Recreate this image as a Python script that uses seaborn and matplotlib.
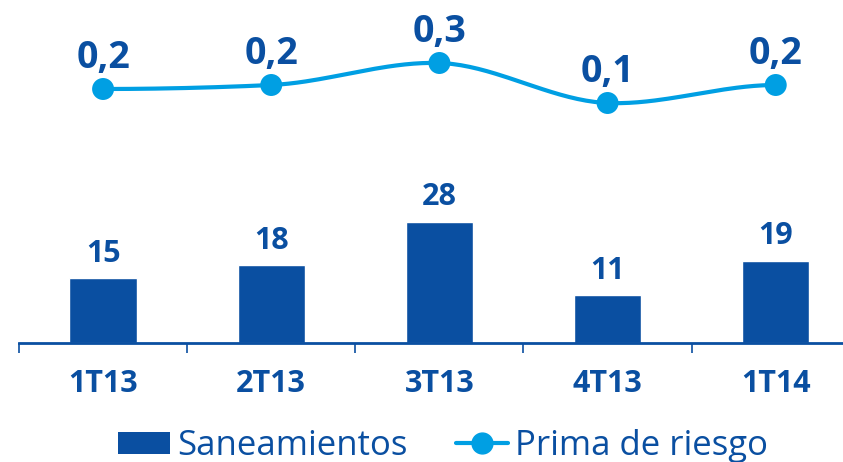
import numpy as np
import pandas as pd
import matplotlib
matplotlib.use('Agg')
import matplotlib.pyplot as plt
from matplotlib.lines import Line2D
from matplotlib.patches import Patch
from matplotlib.ticker import FixedLocator
import seaborn as sns

# data
quarters = ['1T13', '2T13', '3T13', '4T13', '1T14']
saneamientos = [15, 18, 28, 11, 19]
prima_riesgo = [0.17, 0.19, 0.30, 0.10, 0.19]

dark_blue = '#0A4FA1'
light_blue = '#009FE3'

sns.set_theme(style='white')
plt.rcParams['font.family'] = ['Open Sans', 'DejaVu Sans']

df = pd.DataFrame({'quarter': quarters, 'san': saneamientos, 'prima': prima_riesgo})

fig = plt.figure(figsize=(8.43, 4.62), dpi=100)
W, H = 843, 462

# bar panel
ax_bar = fig.add_axes([19 / W, 1 - 343 / H, 1 - 19 / W, 129.6 / H])
sns.barplot(data=df, x='quarter', y='san', color=dark_blue, width=0.4,
            saturation=1, ax=ax_bar)
ax_bar.set_xlim(-0.5, 4.4)
ax_bar.set_ylim(0, 30)
ax_bar.set_xlabel('')
ax_bar.set_ylabel('')
ax_bar.set_yticks([])
for s in ['top', 'right', 'left']:
    ax_bar.spines[s].set_visible(False)
ax_bar.spines['bottom'].set_color(dark_blue)
ax_bar.spines['bottom'].set_linewidth(2)
ax_bar.xaxis.set_minor_locator(FixedLocator(np.arange(len(quarters)) - 0.5))
ax_bar.tick_params(axis='x', which='minor', bottom=True, length=7, width=1.2,
                   color=dark_blue, direction='out')
ax_bar.tick_params(axis='x', which='major', bottom=False, length=0, pad=19,
                   labelsize=22, labelcolor=dark_blue)
for lab in ax_bar.get_xticklabels():
    lab.set_fontweight('bold')
for i, v in enumerate(saneamientos):
    ax_bar.annotate(f'{v}', (i, v), xytext=(0, 12), textcoords='offset points',
                    ha='center', va='baseline', fontsize=22, fontweight='bold',
                    color=dark_blue)

# line panel
ax_line = fig.add_axes([19 / W, 1 - 140 / H, 1 - 19 / W, 120 / H])
ax_line.set_xlim(-0.5, 4.4)
ax_line.set_ylim(-0.085, 0.515)
ax_line.axis('off')

# smooth rendering of the line through the data points (cardinal spline)
xs = np.arange(len(prima_riesgo), dtype=float)
ys = np.array(prima_riesgo)
tang = np.zeros_like(ys)
tang[1:-1] = (ys[2:] - ys[:-2]) / 2 * 0.6
tx, ty = [], []
for i in range(len(xs) - 1):
    t = np.linspace(0, 1, 40)
    h00 = 2 * t**3 - 3 * t**2 + 1
    h10 = t**3 - 2 * t**2 + t
    h01 = -2 * t**3 + 3 * t**2
    h11 = t**3 - t**2
    tx.extend(xs[i] + t)
    ty.extend(h00 * ys[i] + h10 * tang[i] + h01 * ys[i + 1] + h11 * tang[i + 1])
ax_line.plot(tx, ty, color=light_blue, lw=3, solid_capstyle='round')
sns.scatterplot(x=xs, y=ys, color=light_blue, s=250, edgecolor='none',
                ax=ax_line, zorder=3)
for i, v in enumerate(prima_riesgo):
    ax_line.annotate(f'{v:.1f}'.replace('.', ','), (i, v), xytext=(0, 15),
                     textcoords='offset points', ha='center', va='baseline',
                     fontsize=27, fontweight='bold', color=dark_blue)

handles = [Patch(facecolor=dark_blue, edgecolor='none'),
           Line2D([0], [0], color=light_blue, lw=3, marker='o', markersize=15)]
leg = fig.legend(handles, ['Saneamientos', 'Prima de riesgo'], loc='lower center',
                 bbox_to_anchor=(0.526, -0.07), ncol=2, frameon=False, fontsize=25,
                 handlelength=1.5, handleheight=0.6, handletextpad=0.2,
                 columnspacing=1.4)
for t in leg.get_texts():
    t.set_color(dark_blue)

fig.savefig('out.png', dpi=100)
